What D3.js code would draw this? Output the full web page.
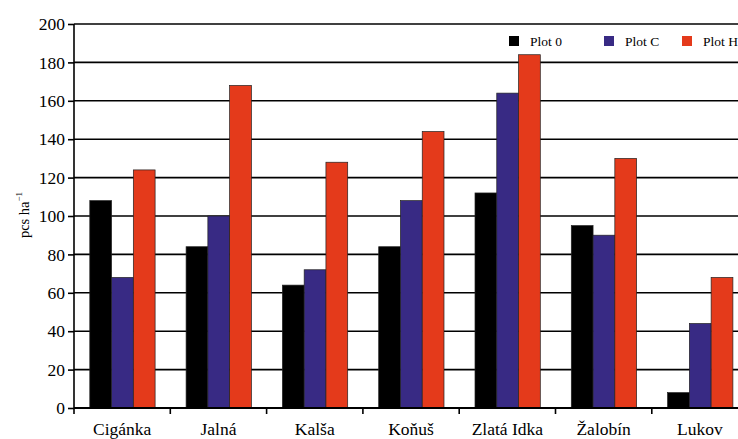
<!DOCTYPE html>
<html><head><meta charset="utf-8">
<script src="https://cdn.jsdelivr.net/npm/d3@7/dist/d3.min.js"></script>
<style>body{margin:0;background:#fff}svg{display:block}svg text{font-family:'Liberation Serif','DejaVu Serif',serif !important}</style>
</head><body><svg id="c" width="738" height="439"></svg>
<script>
const categories = ["Cigánka","Jalná","Kalša","Koňuš","Zlatá Idka","Žalobín","Lukov"];
const seriesNames = ["Plot 0","Plot C","Plot H"];
const plot0 = [108,84,64,84,112,95,8];
const plotC = [68,100,72,108,164,90,44];
const plotH = [124,168,128,144,184,130,68];
const yTicks = [0,20,40,60,80,100,120,140,160,180,200];
const colors = ["#000000","#382a84","#e43a1b"];
const seriesValues = [plot0, plotC, plotH];

(function(){
const svg = d3.select("#c");
const mLeft = 74, mTop = 24, mBottom = 408, step = 96.3;
const x = d3.scaleBand().domain(categories).range([mLeft, mLeft + step*categories.length]).padding(0);
const x1 = d3.scaleBand().domain(seriesNames).range([15.8, step-15.2]).padding(0);
const y = d3.scaleLinear().domain([0,200]).range([mBottom, mTop]);

svg.append("g").selectAll("line").data(yTicks.filter(d=>d>0)).join("line")
  .attr("x1", mLeft).attr("x2", 738).attr("y1", d=>y(d)).attr("y2", d=>y(d))
  .attr("stroke","#000").attr("stroke-width",1.6);

const g = svg.append("g").selectAll("g").data(categories).join("g")
  .attr("transform", d=>`translate(${x(d)},0)`);
g.selectAll("rect").data((c,i)=>seriesNames.map((s,j)=>({s, v: seriesValues[j][i], j}))).join("rect")
  .attr("x", d=>x1(d.s)).attr("width", x1.bandwidth())
  .attr("y", d=>y(d.v)).attr("height", d=>y(0)-y(d.v))
  .attr("fill", d=>colors[d.j]).attr("stroke","#222").attr("stroke-width",0.7);

const ya = svg.append("g").attr("transform",`translate(${mLeft},0)`)
  .call(d3.axisLeft(y).tickValues(yTicks).tickSize(6).tickPadding(3))
  .attr("font-size", 17.5);
ya.select(".domain").attr("stroke","#000").attr("stroke-width",1.6).attr("d",`M0,${mBottom}V${mTop}`);
ya.selectAll(".tick line").attr("stroke","#000").attr("stroke-width",1.6);
ya.selectAll(".tick text").attr("fill","#000");

const xa = svg.append("g").attr("transform",`translate(0,${mBottom})`);
xa.append("line").attr("x1",mLeft).attr("x2",738).attr("y1",0).attr("y2",0).attr("stroke","#000").attr("stroke-width",1.8);
xa.selectAll("line.t").data(categories).join("line").attr("class","t")
  .attr("x1",d=>x(d)).attr("x2",d=>x(d)).attr("y1",0).attr("y2",6)
  .attr("stroke","#000").attr("stroke-width",1.6);
xa.selectAll("text").data(categories).join("text")
  .attr("x",d=>x(d)+x.bandwidth()/2).attr("y",27).attr("text-anchor","middle")
  .attr("font-size",17.5).attr("fill","#000").text(d=>d);

const yl = svg.append("text").attr("transform","translate(29,215) rotate(-90)")
  .attr("text-anchor","middle").attr("font-size",14.5).attr("fill","#000");
yl.append("tspan").text("pcs ha");
yl.append("tspan").attr("dy",-7).attr("font-size",9).text("−1");

const legX = [509, 604, 682];
const lg = svg.append("g").selectAll("g").data(seriesNames).join("g")
  .attr("transform",(d,i)=>`translate(${legX[i]},36)`);
lg.append("rect").attr("width",10).attr("height",10).attr("fill",(d,i)=>colors[i]);
lg.append("text").attr("x",21).attr("y",10).attr("font-size",13.5).attr("fill","#000").text(d=>d);
})();
</script></body></html>
